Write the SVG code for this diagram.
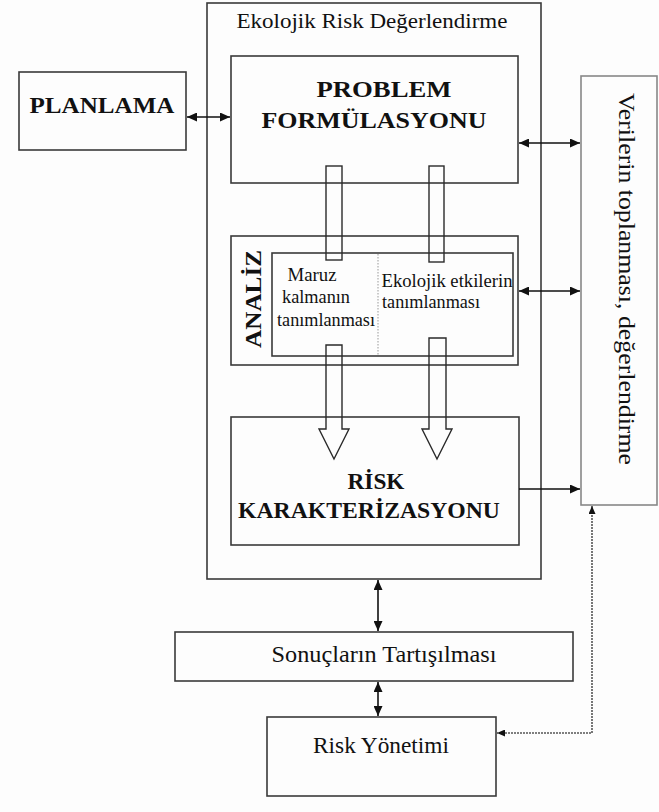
<svg xmlns="http://www.w3.org/2000/svg" width="659" height="812" viewBox="0 0 659 812">
<defs>
<style>
.box{fill:none;stroke:#3a3a3a;stroke-width:1.6}
.pipe{fill:none;stroke:#2a2a2a;stroke-width:1.4}
.t{font-family:"Liberation Serif","Times New Roman",serif;fill:#111}
.b{font-weight:bold}
.ln{fill:none;stroke:#111;stroke-width:1.6}
.dot{fill:none;stroke:#555;stroke-width:1.6;stroke-dasharray:2 1}
</style>
<marker id="ah" viewBox="0 0 10 10" refX="10" refY="5" markerWidth="10" markerHeight="9" markerUnits="userSpaceOnUse" orient="auto-start-reverse" preserveAspectRatio="none">
<path d="M0,0 L10,5 L0,10 Z" fill="#111"/>
</marker>
<marker id="ahs" viewBox="0 0 10 10" refX="10" refY="5" markerWidth="8" markerHeight="7" markerUnits="userSpaceOnUse" orient="auto-start-reverse" preserveAspectRatio="none">
<path d="M0,0 L10,5 L0,10 Z" fill="#111"/>
</marker>
</defs>
<rect width="659" height="812" fill="#fdfdfd"/>

<g id="ekolojik-risk">
<rect class="box" x="207" y="3" width="334" height="576"/>
<text class="t" x="372" y="28" font-size="21" text-anchor="middle" textLength="271" lengthAdjust="spacingAndGlyphs">Ekolojik Risk Değerlendirme</text>
</g>

<g id="planlama">
<rect class="box" x="19" y="72" width="167" height="78"/>
<text class="t b" x="102" y="113" font-size="23" text-anchor="middle" textLength="145" lengthAdjust="spacingAndGlyphs">PLANLAMA</text>
</g>

<g id="problem-formulasyonu">
<rect class="box" x="231" y="56" width="287" height="127"/>
<text class="t b" x="384" y="97" font-size="24" text-anchor="middle" textLength="135" lengthAdjust="spacingAndGlyphs">PROBLEM</text>
<text class="t b" x="374" y="128" font-size="24" text-anchor="middle" textLength="225" lengthAdjust="spacingAndGlyphs">FORMÜLASYONU</text>
</g>

<g id="analiz">
<rect class="box" x="231" y="236" width="287" height="129"/>
<text class="t b" transform="translate(261,299) rotate(-90)" font-size="24" text-anchor="middle" textLength="98" lengthAdjust="spacingAndGlyphs">ANALİZ</text>
<rect class="box" x="272" y="253" width="241" height="103"/>
<line x1="378" y1="254" x2="378" y2="355" stroke="#999" stroke-width="1" stroke-dasharray="1.5 1.5"/>
<text class="t" x="312" y="281" font-size="18" text-anchor="middle" textLength="49" lengthAdjust="spacingAndGlyphs">Maruz</text>
<text class="t" x="316" y="303" font-size="18" text-anchor="middle" textLength="68" lengthAdjust="spacingAndGlyphs">kalmanın</text>
<text class="t" x="326" y="326" font-size="18" text-anchor="middle" textLength="98" lengthAdjust="spacingAndGlyphs">tanımlanması</text>
<text class="t" x="447" y="287" font-size="18" text-anchor="middle" textLength="131" lengthAdjust="spacingAndGlyphs">Ekolojik etkilerin</text>
<text class="t" x="431" y="308" font-size="18" text-anchor="middle" textLength="98" lengthAdjust="spacingAndGlyphs">tanımlanması</text>
</g>

<g id="risk-karakterizasyonu">
<rect class="box" x="231" y="417" width="288" height="128"/>
<text class="t b" x="376" y="489" font-size="23" text-anchor="middle" textLength="57" lengthAdjust="spacingAndGlyphs">RİSK</text>
<text class="t b" x="369" y="518" font-size="23" text-anchor="middle" textLength="262" lengthAdjust="spacingAndGlyphs">KARAKTERİZASYONU</text>
</g>

<g id="verilerin-toplanmasi">
<rect x="581" y="76" width="76" height="429" fill="none" stroke="#888" stroke-width="1.6"/>
<text class="t" transform="translate(619,279) rotate(90)" font-size="23" text-anchor="middle" textLength="372" lengthAdjust="spacingAndGlyphs">Verilerin toplanması, değerlendirme</text>
</g>

<g id="sonuclarin-tartisilmasi">
<rect class="box" x="175" y="632" width="398" height="49"/>
<text class="t" x="384" y="662" font-size="23" text-anchor="middle" textLength="225" lengthAdjust="spacingAndGlyphs">Sonuçların Tartışılması</text>
</g>

<g id="risk-yonetimi">
<rect class="box" x="267" y="717" width="229" height="79"/>
<text class="t" x="381" y="753" font-size="23" text-anchor="middle" textLength="136" lengthAdjust="spacingAndGlyphs">Risk Yönetimi</text>
</g>

<g id="connectors">
<rect class="pipe" x="326" y="166" width="16" height="94"/>
<rect class="pipe" x="429" y="166" width="15" height="96"/>
<path class="pipe" d="M326,345 L342,345 L342,429 L349,429 L334,459 L319,429 L326,429 Z"/>
<path class="pipe" d="M429,338 L446,338 L446,429 L452,429 L437,459 L422,429 L429,429 Z"/>
<line class="ln" x1="187" y1="117" x2="230" y2="117" marker-start="url(#ah)" marker-end="url(#ah)"/>
<line class="ln" x1="519" y1="143" x2="580" y2="143" marker-start="url(#ah)" marker-end="url(#ah)"/>
<line class="ln" x1="519" y1="291" x2="580" y2="291" marker-start="url(#ah)" marker-end="url(#ah)"/>
<line class="ln" x1="519" y1="489" x2="580" y2="489" marker-end="url(#ah)"/>
<line class="ln" x1="378" y1="580" x2="378" y2="631" marker-start="url(#ah)" marker-end="url(#ah)"/>
<line class="ln" x1="378" y1="682" x2="378" y2="716" marker-start="url(#ah)" marker-end="url(#ah)"/>
<path class="dot" d="M592,506 L592,733 L497,733" marker-start="url(#ahs)" marker-end="url(#ahs)"/>
</g>
</svg>
